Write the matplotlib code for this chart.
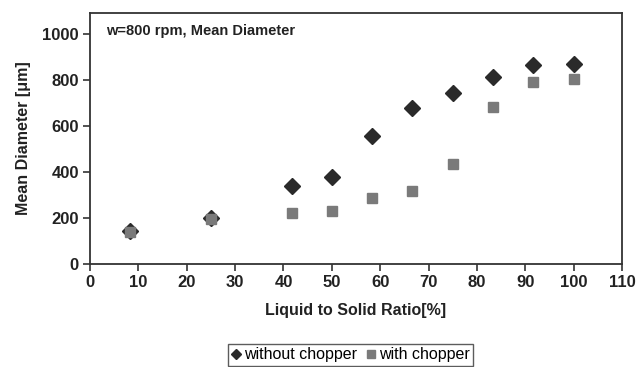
import matplotlib.pyplot as plt

plt.rcParams['font.family'] = ['Liberation Sans', 'DejaVu Sans']

# liquid to solid ratio [%]
ratio = [8.33, 25, 41.67, 50, 58.33, 66.67, 75, 83.33, 91.67, 100]
# mean diameter [um]
without_chopper = [143, 200, 340, 378, 555, 677, 742, 813, 865, 870]
with_chopper = [140, 197, 220, 232, 287, 317, 435, 683, 790, 802]

fig = plt.figure(figsize=(6.37, 3.67), dpi=100)
ax = fig.add_axes([0.1413, 0.2807, 0.8352, 0.6839])

ax.plot(ratio, without_chopper, 'D', color='#2a2a2a', ms=8, mec='#2a2a2a',
        label='without chopper')
ax.plot(ratio, with_chopper, 's', color='#7a7a7a', ms=7.5, mec='#7a7a7a',
        label='with chopper')

ax.set_xlim(0, 110)
ax.set_ylim(0, 1090)
ax.set_xticks(range(0, 111, 10))
ax.set_yticks(range(0, 1001, 200))
ax.tick_params(direction='out', length=5, width=1.2, color='#333333',
               labelsize=12, pad=3)
for lbl in ax.get_xticklabels() + ax.get_yticklabels():
    lbl.set_fontweight('bold')
    lbl.set_color('#222222')
for sp in ax.spines.values():
    sp.set_linewidth(1.3)
    sp.set_color('#333333')

ax.set_xlabel('Liquid to Solid Ratio[%]', fontsize=11.5, fontweight='bold',
              color='#222222', labelpad=9)
ax.set_ylabel('Mean Diameter [\u03bcm]', fontsize=11.5, fontweight='bold',
              color='#222222', labelpad=8)
ax.text(0.03, 0.955, 'w=800 rpm, Mean Diameter', transform=ax.transAxes,
        fontsize=10.5, fontweight='bold', color='#222222', va='top')

leg = fig.legend(loc='center', bbox_to_anchor=(0.55, 0.033), ncol=2,
                 frameon=True, fancybox=False, fontsize=11.5,
                 handlelength=0.6, handletextpad=0.2, columnspacing=0.6,
                 borderpad=0.2, markerscale=0.7)
leg.get_frame().set_edgecolor('#333333')
leg.get_frame().set_linewidth(1.0)

fig.savefig('out.png', dpi=100)
